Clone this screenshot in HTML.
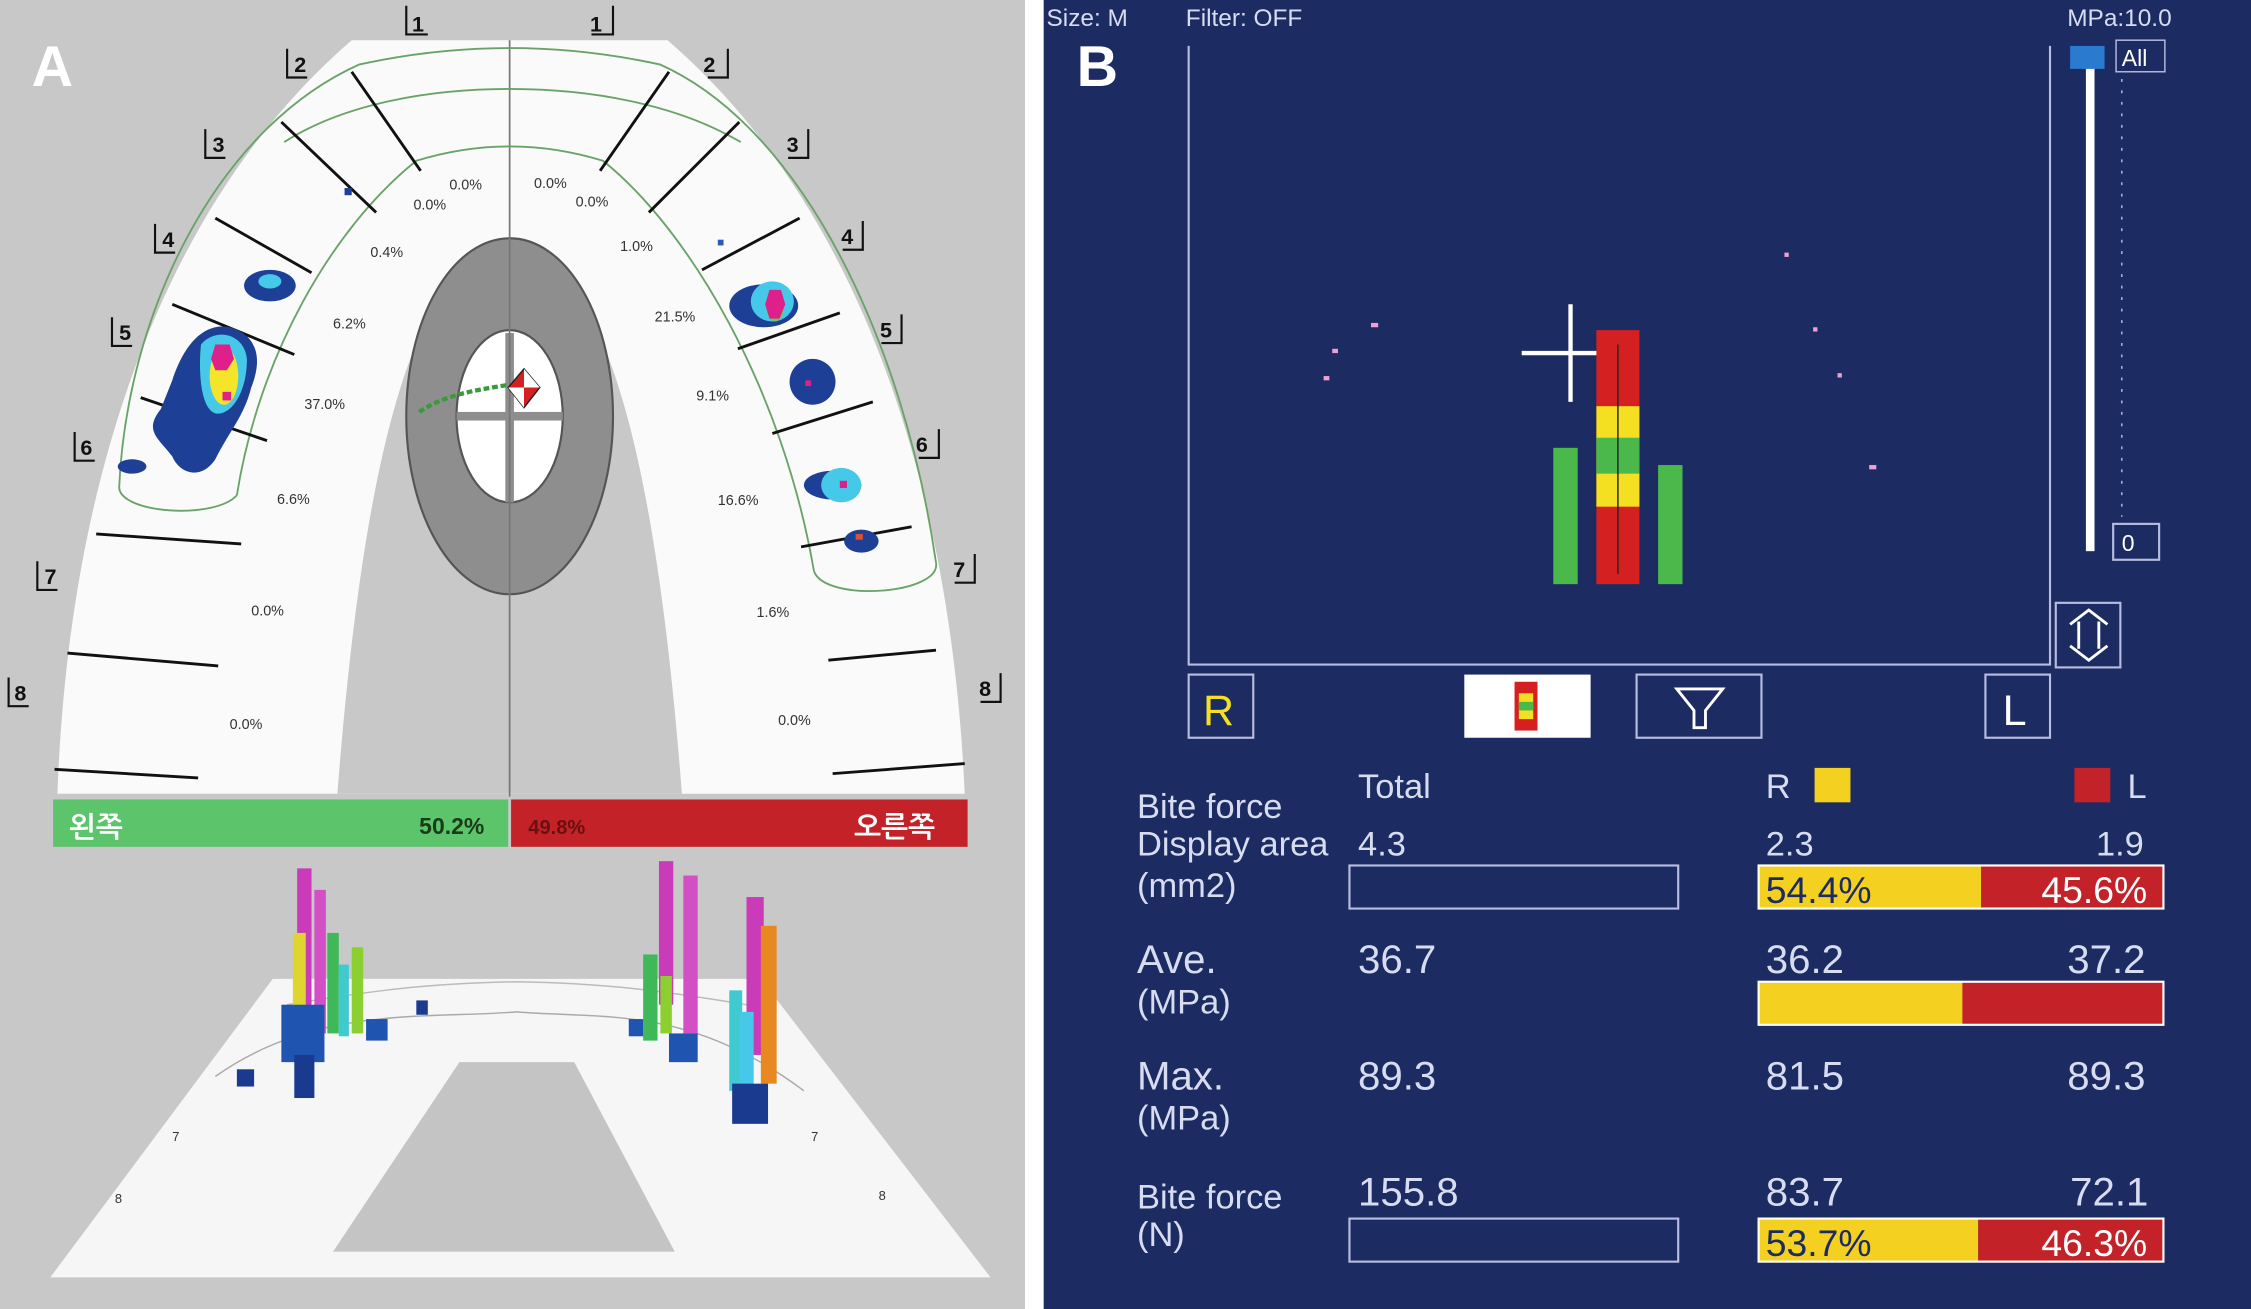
<!DOCTYPE html>
<html><head><meta charset="utf-8"><style>
html,body{margin:0;padding:0;background:#fff}
svg{display:block}
text{font-family:"Liberation Sans","NanumGothic",sans-serif}
</style></head><body>
<svg width="2251" height="1309" viewBox="0 0 1568 912" preserveAspectRatio="none" xmlns="http://www.w3.org/2000/svg">
<rect x="0" y="0" width="1568" height="912" fill="#fff"/>
<!-- LEFT PANEL -->
<rect x="0" y="0" width="714" height="912" fill="#c8c8c8"/>
<text x="22" y="60" font-size="40" font-weight="bold" fill="#fff">A</text>
<path d="M40,553 C48,330 115,140 245,28 L465,28 C595,140 662,330 672,553 Z" fill="#fafafa"/>
<path d="M235,553 C250,360 280,178 355,172 C430,178 460,360 475,553 Z" fill="#c8c8c8"/>
<ellipse cx="355" cy="290" rx="72" ry="124" fill="#8e8e8e" stroke="#555" stroke-width="1.5"/>
<ellipse cx="355" cy="290" rx="37" ry="60" fill="#fff" stroke="#555" stroke-width="1.5"/>
<rect x="352" y="232" width="6" height="118" fill="#8e8e8e"/>
<rect x="318" y="287" width="74" height="6" fill="#8e8e8e"/>
<line x1="355" y1="28" x2="355" y2="555" stroke="#777" stroke-width="1.2"/>
<!-- green band curves -->
<g fill="none" stroke="#6aa36a" stroke-width="1.3">
<path d="M83,340 C88,220 150,90 250,45 Q355,22 460,45 C560,90 630,240 652,392"/>
<path d="M198,99 C240,72 300,62 355,62 C410,62 470,72 516,99"/>
<path d="M165,345 C180,250 230,160 290,112 Q355,92 420,112 C480,160 545,270 567,398"/>
<path d="M83,340 C85,358 150,362 165,345"/>
<path d="M652,392 C656,414 575,420 567,398"/>
</g>
<!-- segment lines -->
<g stroke="#111" stroke-width="2">
<line x1="245" y1="50" x2="293" y2="119"/><line x1="466" y1="50" x2="418" y2="119"/>
<line x1="196" y1="85" x2="262" y2="148"/><line x1="515" y1="85" x2="452" y2="148"/>
<line x1="150" y1="152" x2="217" y2="190"/><line x1="557" y1="152" x2="489" y2="188"/>
<line x1="120" y1="212" x2="205" y2="247"/><line x1="585" y1="218" x2="514" y2="243"/>
<line x1="98" y1="277" x2="186" y2="307"/><line x1="608" y1="280" x2="538" y2="302"/>
<line x1="67" y1="372" x2="168" y2="379"/><line x1="635" y1="367" x2="558" y2="381"/>
<line x1="47" y1="455" x2="152" y2="464"/><line x1="652" y1="453" x2="577" y2="460"/>
<line x1="38" y1="536" x2="138" y2="542"/><line x1="672" y1="532" x2="580" y2="539"/>
</g>
<!-- tooth number brackets -->
<g font-size="15" font-weight="bold" fill="#111">
<text x="287" y="22">1</text><text x="411" y="22">1</text>
<text x="205" y="50">2</text><text x="490" y="50">2</text>
<text x="148" y="106">3</text><text x="548" y="106">3</text>
<text x="113" y="172">4</text><text x="586" y="170">4</text>
<text x="83" y="237">5</text><text x="613" y="235">5</text>
<text x="56" y="317">6</text><text x="638" y="315">6</text>
<text x="31" y="407">7</text><text x="664" y="402">7</text>
<text x="10" y="488">8</text><text x="682" y="485">8</text>
</g>
<g stroke="#111" stroke-width="1.5" fill="none">
<path d="M283,4 V24 H298"/><path d="M427,4 V24 H412"/>
<path d="M200,34 V54 H214"/><path d="M507,34 V54 H493"/>
<path d="M143,90 V110 H157"/><path d="M563,90 V110 H549"/>
<path d="M108,156 V176 H122"/><path d="M601,154 V174 H587"/>
<path d="M78,221 V241 H92"/><path d="M628,219 V239 H614"/>
<path d="M52,301 V321 H66"/><path d="M654,299 V319 H640"/>
<path d="M26,391 V411 H40"/><path d="M679,386 V406 H665"/>
<path d="M6,472 V492 H20"/><path d="M697,469 V489 H683"/>
</g>
<!-- percentages -->
<g font-size="10" fill="#333">
<text x="313" y="132">0.0%</text><text x="288" y="146">0.0%</text>
<text x="372" y="131">0.0%</text><text x="401" y="144">0.0%</text>
<text x="258" y="179">0.4%</text><text x="432" y="175">1.0%</text>
<text x="232" y="229">6.2%</text><text x="456" y="224">21.5%</text>
<text x="212" y="285">37.0%</text><text x="485" y="279">9.1%</text>
<text x="193" y="351">6.6%</text><text x="500" y="352">16.6%</text>
<text x="175" y="429">0.0%</text><text x="527" y="430">1.6%</text>
<text x="160" y="508">0.0%</text><text x="542" y="505">0.0%</text>
</g>
<!-- pressure blobs left -->
<ellipse cx="188" cy="199" rx="18" ry="11" fill="#1d3f95"/><ellipse cx="188" cy="196" rx="8" ry="5" fill="#46c8e8"/>
<path d="M120,265 C130,235 145,225 160,228 C175,232 185,245 175,270 C170,290 160,300 150,320 C140,335 125,330 120,318 C110,305 100,300 112,285 Z" fill="#1d3f95"/>
<path d="M140,240 C150,228 170,232 172,250 C172,275 160,290 150,288 C140,285 138,260 140,240 Z" fill="#46c8e8"/>
<ellipse cx="156" cy="262" rx="10" ry="20" fill="#f4e42a"/>
<path d="M150,240 L160,240 L163,250 L158,258 L150,258 L147,250 Z" fill="#e0208a"/>
<rect x="155" y="273" width="6" height="6" fill="#e0208a"/>
<ellipse cx="92" cy="325" rx="10" ry="5" fill="#1d3f95"/>
<rect x="240" y="131" width="5" height="5" fill="#1d3f95"/>
<!-- right blobs -->
<ellipse cx="532" cy="213" rx="24" ry="15" fill="#1d3f95"/><ellipse cx="538" cy="210" rx="15" ry="14" fill="#46c8e8"/>
<ellipse cx="540" cy="214" rx="6" ry="10" fill="#6cc84a"/><path d="M536,202 L544,202 L547,212 L543,222 L536,222 L533,212 Z" fill="#e0208a"/>
<ellipse cx="566" cy="266" rx="16" ry="16" fill="#1d3f95"/><rect x="561" y="265" width="4" height="4" fill="#e0208a"/>
<ellipse cx="580" cy="338" rx="20" ry="10" fill="#1d3f95"/><ellipse cx="586" cy="338" rx="14" ry="12" fill="#46c8e8"/><rect x="585" y="335" width="5" height="5" fill="#e0208a"/>
<ellipse cx="600" cy="377" rx="12" ry="8" fill="#1d3f95"/><rect x="596" y="372" width="5" height="4" fill="#e05030"/>
<rect x="500" y="167" width="4" height="4" fill="#2a5ac0"/>
<!-- green trace and marker -->
<path d="M292,287 C310,275 330,272 355,268" stroke="#3a9a3a" stroke-width="3" stroke-dasharray="4 2" fill="none"/>
<path d="M365,257 L376,270 L365,284 L354,270 Z" fill="#d42020" stroke="#222" stroke-width="1"/>
<path d="M365,257 L376,270 L365,270 Z M354,270 L365,270 L365,284 Z" fill="#fff"/>
<!-- bar -->
<rect x="37" y="557" width="317" height="33" fill="#5cc46a"/>
<rect x="356" y="557" width="318" height="33" fill="#c32228"/>
<text x="48" y="583" font-size="20" fill="#fff" font-weight="bold">왼쪽</text>
<text x="292" y="581" font-size="16" fill="#1a3a1a" font-weight="bold">50.2%</text>
<text x="368" y="581" font-size="14" fill="#6a1010" font-weight="bold">49.8%</text>
<text x="595" y="583" font-size="20" fill="#fff" font-weight="bold">오른쪽</text>
<!-- 3D view -->
<path d="M190,682 L530,682 L690,890 L35,890 Z" fill="#f6f6f6"/>
<path d="M320,740 L400,740 L470,872 L232,872 Z" fill="#c4c4c4"/>
<path d="M200,700 C260,690 300,685 360,684 C420,685 460,690 520,700" fill="none" stroke="#bbb" stroke-width="1"/>
<path d="M150,750 C220,700 300,710 360,705 C420,710 480,700 560,760" fill="none" stroke="#aaa" stroke-width="1"/>
<g>
<rect x="207" y="605" width="10" height="120" fill="#c93bb8"/>
<rect x="219" y="620" width="8" height="100" fill="#d24fc6"/>
<rect x="204" y="650" width="9" height="80" fill="#e0d430"/>
<rect x="228" y="650" width="8" height="70" fill="#3fb85a"/>
<rect x="236" y="672" width="7" height="50" fill="#3fcad0"/>
<rect x="245" y="660" width="8" height="60" fill="#8ccf30"/>
<rect x="196" y="700" width="30" height="40" fill="#1f55b0"/>
<rect x="205" y="735" width="14" height="30" fill="#1a3a90"/>
<rect x="165" y="745" width="12" height="12" fill="#1a3a90"/>
<rect x="255" y="710" width="15" height="15" fill="#1f55b0"/>
<rect x="459" y="600" width="10" height="100" fill="#c93bb8"/>
<rect x="476" y="610" width="10" height="110" fill="#d24fc6"/>
<rect x="520" y="625" width="12" height="110" fill="#c93bb8"/>
<rect x="530" y="645" width="11" height="110" fill="#e88820"/>
<rect x="448" y="665" width="10" height="60" fill="#3fb85a"/>
<rect x="460" y="680" width="8" height="40" fill="#8ccf30"/>
<rect x="508" y="690" width="9" height="70" fill="#3fcad0"/>
<rect x="515" y="705" width="10" height="60" fill="#46c8e8"/>
<rect x="466" y="720" width="20" height="20" fill="#1f55b0"/>
<rect x="510" y="755" width="25" height="28" fill="#1a3a90"/>
<rect x="438" y="710" width="10" height="12" fill="#1f55b0"/>
<rect x="290" y="697" width="8" height="10" fill="#1a3a90"/>
</g>
<g font-size="9" fill="#333"><text x="120" y="795">7</text><text x="565" y="795">7</text><text x="80" y="838">8</text><text x="612" y="836">8</text></g>
<!-- divider -->
<rect x="714" y="0" width="13" height="912" fill="#fff"/>
<!-- RIGHT PANEL -->
<rect x="727" y="0" width="841" height="912" fill="#1c2b62"/>
<text x="750" y="60" font-size="40" font-weight="bold" fill="#fff">B</text>
<g font-size="17" fill="#d8dcf0">
<text x="729" y="18">Size: M</text><text x="826" y="18">Filter: OFF</text><text x="1440" y="18">MPa:10.0</text>
</g>
<g stroke="#b8bce0" stroke-width="1.5" fill="none">
<path d="M828,32 V463 H1428 V32"/>
<rect x="1432" y="420" width="45" height="45"/>
<rect x="828" y="470" width="45" height="44"/>
<rect x="1140" y="470" width="87" height="44"/>
<rect x="1383" y="470" width="45" height="44"/>
<rect x="940" y="603" width="229" height="30"/>
<rect x="940" y="849" width="229" height="30"/>
<rect x="1472" y="365" width="32" height="25"/>
</g>
<rect x="1453" y="38" width="6" height="346" fill="#fff"/>
<rect x="1442" y="32" width="24" height="16" fill="#2a7ad0"/>
<rect x="1474" y="28" width="34" height="22" fill="none" stroke="#b8bce0"/>
<text x="1478" y="46" font-size="16" fill="#fff">All</text>
<text x="1478" y="384" font-size="16" fill="#fff">0</text>
<line x1="1478" y1="55" x2="1478" y2="360" stroke="#b8bce0" stroke-dasharray="2 6"/>
<path d="M1442,435 L1455,425 L1468,435 M1442,450 L1455,460 L1468,450 M1448,433 V452 M1462,433 V452" stroke="#fff" stroke-width="2" fill="none"/>
<text x="838" y="505" font-size="30" fill="#f4e020">R</text>
<text x="1395" y="505" font-size="30" fill="#fff">L</text>
<path d="M1168,480 L1200,480 L1188,495 L1188,507 L1180,507 L1180,495 Z" fill="none" stroke="#fff" stroke-width="2"/>
<rect x="1020" y="470" width="88" height="44" fill="#fff"/>
<rect x="1055" y="475" width="16" height="34" fill="#d42020"/><rect x="1058" y="483" width="10" height="18" fill="#f4e020"/><rect x="1058" y="489" width="10" height="6" fill="#4ab84a"/>
<!-- center graph -->
<line x1="1060" y1="246" x2="1132" y2="246" stroke="#fff" stroke-width="3"/>
<line x1="1094" y1="212" x2="1094" y2="280" stroke="#fff" stroke-width="3"/>
<rect x="1112" y="230" width="30" height="177" fill="#d42020"/>
<rect x="1112" y="283" width="30" height="70" fill="#f4e020"/>
<rect x="1112" y="305" width="30" height="25" fill="#4ab84a"/>
<line x1="1127" y1="240" x2="1127" y2="400" stroke="#222" stroke-width="1"/>
<rect x="1082" y="312" width="17" height="95" fill="#4ab84a"/>
<rect x="1155" y="324" width="17" height="83" fill="#4ab84a"/>
<g fill="#f0a0d0"><rect x="928" y="243" width="4" height="3"/><rect x="922" y="262" width="4" height="3"/><rect x="955" y="225" width="5" height="3"/><rect x="1243" y="176" width="3" height="3"/><rect x="1263" y="228" width="3" height="3"/><rect x="1280" y="260" width="3" height="3"/><rect x="1302" y="324" width="5" height="3"/></g>
<!-- table -->
<g font-size="24" fill="#d8dcf0">
<text x="792" y="570">Bite force</text>
<text x="792" y="596">Display area</text>
<text x="792" y="625">(mm2)</text>
<text x="946" y="556">Total</text>
<text x="946" y="596">4.3</text>
<text x="1230" y="556">R</text>
<text x="1482" y="556">L</text>
<text x="1230" y="596">2.3</text><text x="1460" y="596">1.9</text>
<text x="792" y="678" font-size="28">Ave.</text><text x="792" y="706">(MPa)</text>
<text x="946" y="678" font-size="28">36.7</text><text x="1230" y="678" font-size="28">36.2</text><text x="1440" y="678" font-size="28">37.2</text>
<text x="792" y="759" font-size="28">Max.</text><text x="792" y="787">(MPa)</text>
<text x="946" y="759" font-size="28">89.3</text><text x="1230" y="759" font-size="28">81.5</text><text x="1440" y="759" font-size="28">89.3</text>
<text x="792" y="842">Bite force</text><text x="792" y="868">(N)</text>
<text x="946" y="840" font-size="28">155.8</text><text x="1230" y="840" font-size="28">83.7</text><text x="1442" y="840" font-size="28">72.1</text>
</g>
<rect x="1264" y="535" width="25" height="24" fill="#f4d020"/>
<rect x="1445" y="535" width="25" height="24" fill="#c32228"/>
<rect x="1225" y="603" width="155" height="30" fill="#f4d020"/><rect x="1380" y="603" width="127" height="30" fill="#c32228"/>
<rect x="1225" y="684" width="142" height="30" fill="#f4d020"/><rect x="1367" y="684" width="140" height="30" fill="#c32228"/>
<rect x="1225" y="849" width="153" height="30" fill="#f4d020"/><rect x="1378" y="849" width="129" height="30" fill="#c32228"/>
<g stroke="#fff" fill="none" stroke-width="1.5"><rect x="1225" y="603" width="282" height="30"/><rect x="1225" y="684" width="282" height="30"/><rect x="1225" y="849" width="282" height="30"/></g>
<g font-size="26">
<text x="1230" y="629" fill="#1c2b62">54.4%</text><text x="1422" y="629" fill="#fff">45.6%</text>
<text x="1230" y="875" fill="#1c2b62">53.7%</text><text x="1422" y="875" fill="#fff">46.3%</text>
</g>
</svg>
</body></html>
